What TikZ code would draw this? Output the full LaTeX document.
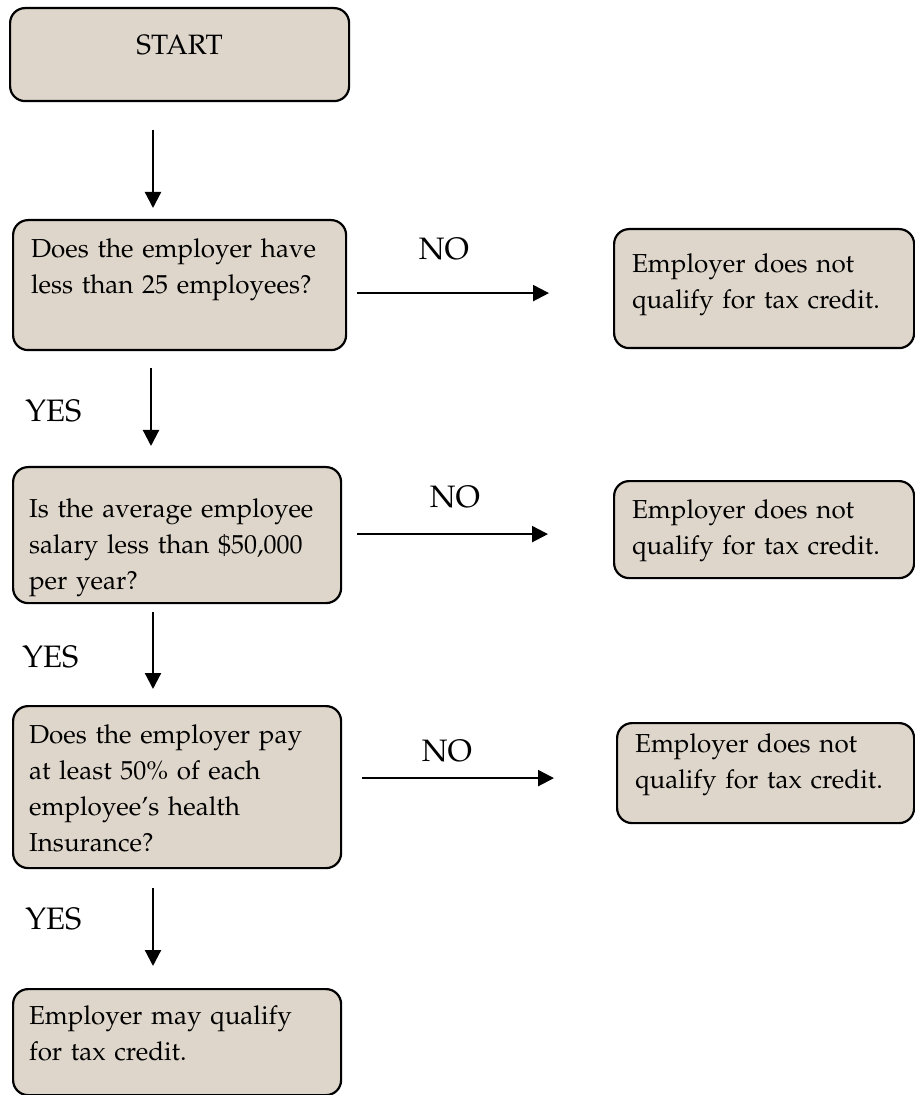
\documentclass[tikz,border=0pt]{standalone}
\usepackage[T1]{fontenc}
\usepackage{mathpazo}
\usepackage{xcolor}
\definecolor{boxfill}{RGB}{222, 214, 203}
\usepackage{tikz}
\usetikzlibrary{arrows.meta,calc}

\begin{document}
\begin{tikzpicture}[
  x=0.5pt, y=-0.5pt,
  every node/.style={font=\fontsize{13}{18}\selectfont},
  box/.style={draw=black, line width=1.1pt, fill=boxfill, rounded corners=7.5pt, align=left, anchor=north west, inner xsep=9pt, inner ysep=0pt},
  answer/.style={font=\fontsize{15.5}{18}\selectfont, inner sep=0pt},
  arrow/.style={line width=1.1pt, -{Triangle[length=8pt,width=8pt]}}
]
\useasboundingbox (0,0) rectangle (914,1095);
\node[box, align=center, font=\fontsize{14}{18}\selectfont, text width=151.5pt, text height=23pt, text depth=23.5pt] (start) at (9,7) {START};
\node[box, text width=148.5pt, text height=18.5pt, text depth=46.5pt] (q1) at (12,219) {Does the employer have\\ less than 25 employees?};
\node[box, inner xsep=8pt, text width=148pt, text height=25pt, text depth=43pt] (q2) at (12,466) {Is the average employee\\ salary less than \$50,000\\ per year?};
\node[box, inner xsep=8pt, text width=148pt, text height=18.5pt, text depth=62.5pt] (q3) at (12,705) {Does the employer pay\\ at least 50\% of each\\ employee's health\\ Insurance?};
\node[box, inner xsep=8pt, text width=148pt, text height=17.5pt, text depth=35.5pt] (final) at (12,988) {Employer may qualify\\ for tax credit.};
\node[box, text width=132pt, text height=21.5pt, text depth=38pt] (r1) at (613,228) {Employer does not\\ qualify for tax credit.};
\node[box, text width=132pt, text height=18.5pt, text depth=30pt] (r2) at (613,480) {Employer does not\\ qualify for tax credit.};
\node[box, text width=130.5pt, text height=14.5pt, text depth=35.5pt] (r3) at (616,722) {Employer does not\\ qualify for tax credit.};
\node[answer, anchor=base] (no1) at (444,260) {NO};
\node[answer, anchor=base] (no2) at (455,507) {NO};
\node[answer, anchor=base] (no3) at (447,761) {NO};
\node[answer, anchor=base west] (yes1) at (25,422) {YES};
\node[answer, anchor=base west] (yes2) at (22,667) {YES};
\node[answer, anchor=base west] (yes3) at (25,929) {YES};
\draw[arrow] ($(start.south west)+(144,28)$) -- ($(q1.north west)+(141,-11)$);
\draw[arrow] ($(q1.south west)+(139,17)$) -- ($(q2.north west)+(139,-20)$);
\draw[arrow] ($(q2.south west)+(141,8)$) -- ($(q3.north west)+(141,-16)$);
\draw[arrow] ($(q3.south west)+(141,19)$) -- ($(final.north west)+(141,-22)$);
\draw[arrow] ($(q1.east)+(10,8)$) -- ($(r1.west |- q1.east)+(-64,8)$);
\draw[arrow] ($(q2.east)+(15,-1)$) -- ($(r2.west |- q2.east)+(-65,-1)$);
\draw[arrow] ($(q3.east)+(20,-9)$) -- ($(r3.west |- q3.east)+(-62,-9)$);
\end{tikzpicture}
\end{document}
